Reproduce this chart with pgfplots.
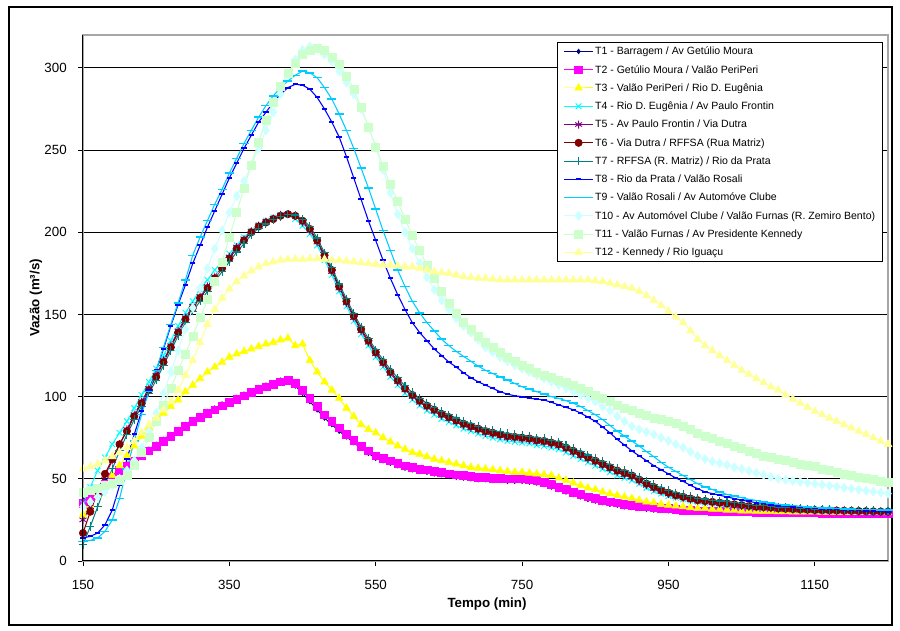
\documentclass[border=0pt]{standalone}
\usepackage{fontspec}
\setmainfont{Liberation Sans}
\usepackage{pgfplots}
\usepackage{pgfplotstable}
\pgfplotsset{compat=1.18}
\definecolor{cT1}{HTML}{000080}
\definecolor{cT2}{HTML}{FF00FF}
\definecolor{cT3}{HTML}{FFFF00}
\definecolor{cT4}{HTML}{00FFFF}
\definecolor{cT5}{HTML}{800080}
\definecolor{cT6}{HTML}{800000}
\definecolor{cT7}{HTML}{008080}
\definecolor{cT8}{HTML}{0000FF}
\definecolor{cT9}{HTML}{00CCFF}
\definecolor{cT10}{HTML}{CCFFFF}
\definecolor{cT11}{HTML}{CCFFCC}
\definecolor{cT12}{HTML}{FFFF99}
\pgfplotstableread{
x T1 T2 T3 T4 T5 T6 T7 T8 T9 T10 T11 T12
150 37 35 28 35 25 17 10 14 12 33 42 56
160 41 39 34 45 33 30 21 15 12.5 36 43 57.5
170 45 43 40 55 42 42 33 17 14 39 44.5 59
180 49 47 46 63 52 53 45 22 18 42 46 61
190 52.5 51 52 71 61 62 56 31 25 46 47.5 63.5
200 56 55 58 78 71 71 67 46 38 50 49 66
210 59 58 64 85 80 79 77 62 56 55 52 69
220 62 61 70 93 89 88 86 77 73 61 58 73
230 65 64 76 101 97 96 94 91 89 69 66 78
240 68 67 81 109 105 104 102 104 103 79 75 83
250 71 70 86 117 113 112 110 116 116 90 85 87
260 74 73 90 125 122 121 119 129 130 102 95 92
270 77 76 94 134 131 130 128 143 144 115 105 97
280 80 79 98 143 140 139 137 156 157 128 116 104
290 83 82 103 151 148 147 145 168 171 141 126 113
300 86 85 107 158 155 154 152 181 186 154 137 122
310 88.5 87.5 111 165 161 160 158 192 197 166 148 133
320 91 90 115 171 167 166 164 203 207 178 159 144
330 93 92 118 177 173 172 170 213 217 190 170 153
340 95.5 94.5 121 182 179 178 176 223 226 201 182 160
350 97.5 96.5 124 187 185 184 182 233 236 212 197 165.5
360 99.5 98.5 126 192 191 190 188 242 245 222 212 170
370 101.5 100.5 127.5 197 196 195 193 251 254 231 227 173.5
380 103.5 102.5 129 201 200.5 200 198.5 259 262 241 241 176.5
390 105.5 104.5 130.5 204.5 204 203.5 202.5 267 270 251 255 179
400 107 106 132 207 206.5 206 205 273 277 262 268 181
410 108.5 107.5 133 209 208.5 208 207.5 279 283 273 279 182
420 110 109 134.5 210.5 210.5 210 209.5 284 288 284 289 183
430 110 110 135.5 211 211 211 211 288 292 296 297 183.5
440 106.5 108 131 208 210 210 210.5 290 295.5 305 303 183.5
450 102 104 132 204 206 207 208 289.5 298 311 308 183.5
460 97 99 122 199 201 202 203.5 287 297 313 311 184
470 92 94 115 192 194 195 196.5 282 294 311.5 312 184
480 87 89 109 183 185 186 187.5 275 288 308 310.5 183.5
490 83 85 104 174 176 177 178.5 267 281 304 306.5 183
500 79 81 99 164 166 167 168.5 258 272 298 302 183
510 75.5 77 93 155 157 158 159.5 246 262 291 295 182.5
520 72 73.5 88 146 148 149 150.5 233 251 284 287 182
530 68.5 70 83 138 140 141 142.5 220 239 275 276 181.5
540 65.5 67 80 131 133 134 135.5 207 227 264 264 181
550 62.5 64 78 124 126 127 128.5 195 214 252 252 180.5
560 61 62.5 75 118 120 121 122.5 183 201 238 240 180
570 59.5 61 72.5 112 114 115 116.5 172 189 224 229 180
580 58 59.5 70 107 109 110 111.5 162 177 211 219 179.5
590 56.5 58 68 102 104 105 106.5 153 167 200 208 179
600 55.5 57 66 98 100 101 102.5 145 158 190 198 179
610 54.5 56 65 94.5 96.5 97.5 99 139 151 181 189 178
620 54 55.5 63.5 91.5 93.5 94.5 96 134 145 172.5 180 177
630 53 54.5 62 89 91 92 93.5 129 140 165 172 176
640 52.5 54 61 86.5 88.5 89.5 91 125 135 158.5 164 175.5
650 51.5 53 60 84.5 86.5 87.5 89 121 131 153 157 175
660 51 52.5 59 82.5 84.5 85.5 87 118 127.5 147.5 151 174
670 50.5 52 58 80.5 82.5 83.5 85 114.5 124.5 143 145.5 173
680 50 51.5 57 79 81 82 83.5 111.5 121.5 139 141 172.5
690 49.5 51 56.5 77.5 79.5 80.5 82 109 118.5 134.5 137 172
700 49.5 51 56 76 78 79 80.5 107 116 130 133 172
710 49 50.5 55.5 75 77 78 79.5 105 114 127 130 171.5
720 49 50.5 55 74 76 77 78.5 103 112 124 127 171
730 48.5 50 54.5 73 75 76 77.5 101.5 110 121.5 124 171
740 48.5 50 54 72.5 74.5 75.5 77 100.5 108 119 121.5 171
750 48.5 50 54 72 74 75 76.5 100 106 117 119 171
760 48 49.5 53.5 71.5 73.5 74.5 76 99 104.5 115 117 171
770 47.5 49 53 70.5 72.5 73.5 75 98.5 103 113 115 171
780 46.5 48 52.5 70 72 73 74.5 98 101.5 111 113 171
790 45 46.5 52 69 71 72 73.5 96.5 100 109 111.5 171
800 43.5 45 50.5 68 70 71 72.5 95 99 107 110 171
810 42 43.5 49 66 68 69 70.5 93.5 97.5 105 108.5 171
820 40.5 42 47.5 64 66 67 68.5 92 96 103 107 171
830 39 40.5 46 62 64 65 66.5 90 94 101 105 171
840 37.5 39 44.5 60 62 63 64.5 87.5 91.5 99 103 171
850 36.5 38 43.5 58 60 61 62.5 85 89 97 101 170.5
860 35.5 37 42 56 58 59 60.5 81.5 86 94 99 170
870 34.5 36 41 54 56 57 58.5 78 82.5 91.5 97 169
880 34 35.5 40 52 54 55 56.5 74 79 88 95 168
890 33 34.5 39 50.5 52.5 53.5 55 70.5 76 85 93 167
900 32.5 34 38 49 51 52 53.5 67 73 82 91.5 166
910 32 33.5 37 47 48.5 49.5 51 64 70 80 90 164
920 31.5 33 36 44.5 46 47 48.5 61 66.5 78.5 88.5 161.5
930 31 32.5 35.5 42.5 44 45 46.5 58 63.5 77 87 158.5
940 30.8 32 34.5 41 42.2 43 44.5 55.5 60 75 86 155.5
950 30.6 32 34 39.5 40.7 41.5 43 53 57 73 85 152
960 30.4 31.5 33.5 38.5 39.3 40 41.5 50.5 54.5 71 83.5 148.5
970 30.2 31 33 37.5 38.3 39 40.5 48.5 52 69 82 145
980 30 31 32.5 36.7 37.3 38 39.3 46 49.5 66.5 80 140
990 29.9 30.5 32 36 36.4 37 38.3 44 47 64 78 135
1000 29.8 30.5 32 35.5 35.9 36.5 37.7 42 45 62 76 131
1010 29.7 30.4 31.5 35 35.4 36 37 41 43.5 60.5 74.5 128
1020 29.6 30.3 31.5 34.5 34.9 35.5 36.5 40 42 59.5 73 125
1030 29.5 30.2 31 34 34.4 35 36 39 40.5 58.5 71.5 122
1040 29.4 30.1 31 33.6 33.9 34.5 35.4 38 39.5 57 70 119
1050 29.3 30 30.5 33.2 33.5 34 34.9 37 38.5 56 68.5 116
1060 29.2 29.9 30.5 32.8 33 33.5 34.4 36.2 37.5 54.8 67 113.5
1070 29.1 29.8 30.3 32.4 32.6 33 33.9 35.5 36.8 53.6 65.5 111
1080 29 29.7 30.2 32.2 32.4 32.8 33.6 35 36 52.4 64 108.5
1090 29 29.6 30.1 32 32.1 32.5 33.3 34.2 35.2 51.2 63 106
1100 28.9 29.5 30 31.6 31.7 32 32.8 33.5 34.5 50 62 104
1110 28.9 29.5 30 31.4 31.5 31.8 32.5 33.2 34.1 49.4 61 101
1120 28.9 29.4 29.9 31.2 31.3 31.6 32.3 33 33.7 48.8 60 98.5
1130 28.9 29.4 29.9 31 31.1 31.4 32 32.6 33.3 48.2 59 96
1140 28.8 29.3 29.8 30.8 30.9 31.2 31.8 32.3 32.9 47.6 58.2 93.5
1150 28.8 29.3 29.8 30.6 30.7 31 31.6 32 32.5 47 57.5 91
1160 28.8 29.2 29.7 30.5 30.6 30.9 31.4 31.8 32.3 46.4 56 89
1170 28.8 29.2 29.7 30.4 30.5 30.8 31.3 31.6 32.1 45.8 55 87
1180 28.8 29.2 29.6 30.3 30.4 30.7 31.2 31.4 31.9 45.2 54 85
1190 28.8 29.1 29.6 30.2 30.3 30.6 31.1 31.2 31.7 44.6 53 83
1200 28.8 29.1 29.5 30.1 30.2 30.5 31 31 31.5 44 52 81
1210 28.8 29.1 29.5 30 30.1 30.4 30.9 30.8 31.4 43.4 51.2 79
1220 28.8 29 29.5 29.9 30 30.3 30.8 30.6 31.3 42.8 50.4 77
1230 28.8 29 29.5 29.8 29.9 30.2 30.7 30.4 31.2 42.2 49.6 75
1240 28.8 29 29.5 29.7 29.8 30.1 30.6 30.2 31.1 41.6 48.8 73
1250 28.8 29 29.5 29.6 29.7 30 30.5 30 31 41 48 71
}\data
\begin{document}
\begin{tikzpicture}
\fill[white] (-62.25pt,-52.5pt) rectangle (612.75pt,420.75pt);
\draw[black, line width=1.5pt] (-55.5pt,-48pt) rectangle (606.75pt,415.5pt);
\begin{axis}[
  at={(0,0)}, anchor=south west,
  scale only axis, width=603.75pt, height=394.5pt,
  xmin=150, xmax=1250, ymin=0, ymax=320,
  xtick={150,350,...,1150}, ytick={0,50,...,300},
  tick align=outside, tick pos=left, major tick length=3.75pt,
  every tick/.style={black, line width=0.6pt},
  ymajorgrids, major grid style={black, line width=0.6pt},
  axis line style={draw=gray!70, line width=1pt},
  /pgf/number format/assume math mode=true,
  /pgf/number format/1000 sep={},
  tick label style={font=\fontsize{10}{12}\selectfont},
  xticklabel style={anchor=center, inner sep=0pt, yshift=-14.25pt},
  yticklabel style={anchor=east, inner sep=0pt, xshift=-8.25pt},
  legend cell align=left,
  legend image code/.code={\draw[mark repeat=2,mark phase=2,#1] plot coordinates {(0pt,0pt) (11pt,0pt) (22pt,0pt)};},
  legend style={at={(rel axis cs:0.5888,0.9867)}, anchor=north west, draw=black, line width=0.6pt, fill=white,
    font=\fontsize{7.9}{9}\selectfont, inner xsep=4.5pt, inner ysep=2.3pt, row sep=4.7pt,
    nodes={inner xsep=1pt, inner ysep=0pt, text height=7pt, text depth=2pt}},
]
\addplot[color=cT1, line width=0.75pt, mark=diamond*, mark size=1.8pt, mark options={solid, fill=cT1, line width=0.4pt}] table[x=x,y=T1]{\data};
\addlegendentry{T1 - Barragem / Av Getúlio Moura}
\addplot[color=cT2, line width=0.75pt, mark=square*, mark size=2.9pt, mark options={solid, fill=cT2, line width=0.4pt}] table[x=x,y=T2]{\data};
\addlegendentry{T2 - Getúlio Moura / Valão PeriPeri}
\addplot[color=cT3, line width=0.75pt, mark=triangle*, mark size=3.3pt, mark options={solid, fill=cT3, line width=0.4pt}] table[x=x,y=T3]{\data};
\addlegendentry{T3 - Valão PeriPeri / Rio D. Eugênia}
\addplot[color=cT4, line width=0.75pt, mark=x, mark size=3pt, mark options={solid, line width=0.7pt}] table[x=x,y=T4]{\data};
\addlegendentry{T4 - Rio D. Eugênia / Av Paulo Frontin}
\addplot[color=cT5, line width=0.75pt, mark=asterisk, mark size=3pt, mark options={solid, line width=0.7pt}] table[x=x,y=T5]{\data};
\addlegendentry{T5 - Av Paulo Frontin / Via Dutra}
\addplot[color=cT6, line width=0.75pt, mark=*, mark size=2.8pt, mark options={solid, fill=cT6, line width=0.4pt}] table[x=x,y=T6]{\data};
\addlegendentry{T6 - Via Dutra / RFFSA (Rua Matriz)}
\addplot[color=cT7, line width=0.75pt, mark=+, mark size=3.1pt, mark options={solid, line width=0.8pt}] table[x=x,y=T7]{\data};
\addlegendentry{T7 - RFFSA (R. Matriz) / Rio da Prata}
\addplot[color=cT8, line width=0.8pt, mark=-, mark size=2pt, mark options={solid, line width=1.5pt}] table[x=x,y=T8]{\data};
\addlegendentry{T8 - Rio da Prata / Valão Rosali}
\addplot[color=cT9, line width=0.8pt, mark=-, mark size=3.4pt, mark options={solid, line width=1.1pt}] table[x=x,y=T9]{\data};
\addlegendentry{T9 - Valão Rosali / Av Automóve Clube}
\addplot[color=cT10, line width=0.75pt, mark=diamond*, mark size=3.4pt, mark options={solid, fill=cT10, line width=0.4pt}] table[x=x,y=T10]{\data};
\addlegendentry{T10 - Av Automóvel Clube / Valão Furnas (R. Zemiro Bento)}
\addplot[color=cT11, line width=0.75pt, mark=square*, mark size=3pt, mark options={solid, fill=cT11, line width=0.4pt}] table[x=x,y=T11]{\data};
\addlegendentry{T11 - Valão Furnas / Av Presidente Kennedy}
\addplot[color=cT12, line width=0.75pt, mark=triangle*, mark size=3.4pt, mark options={solid, fill=cT12, line width=0.4pt}] table[x=x,y=T12]{\data};
\addlegendentry{T12 - Kennedy / Rio Iguaçu}
\end{axis}
\draw[black, line width=0.75pt] (0,394.5pt) -- (0,0) -- (603.75pt,0);
\node[rotate=90, font=\fontsize{10}{12}\selectfont\bfseries] at (-35.25pt,197.25pt) {Vazão (m³/s)};
\node[font=\fontsize{10}{12}\selectfont\bfseries] at (303pt,-32.25pt) {Tempo (min)};
\end{tikzpicture}
\end{document}
